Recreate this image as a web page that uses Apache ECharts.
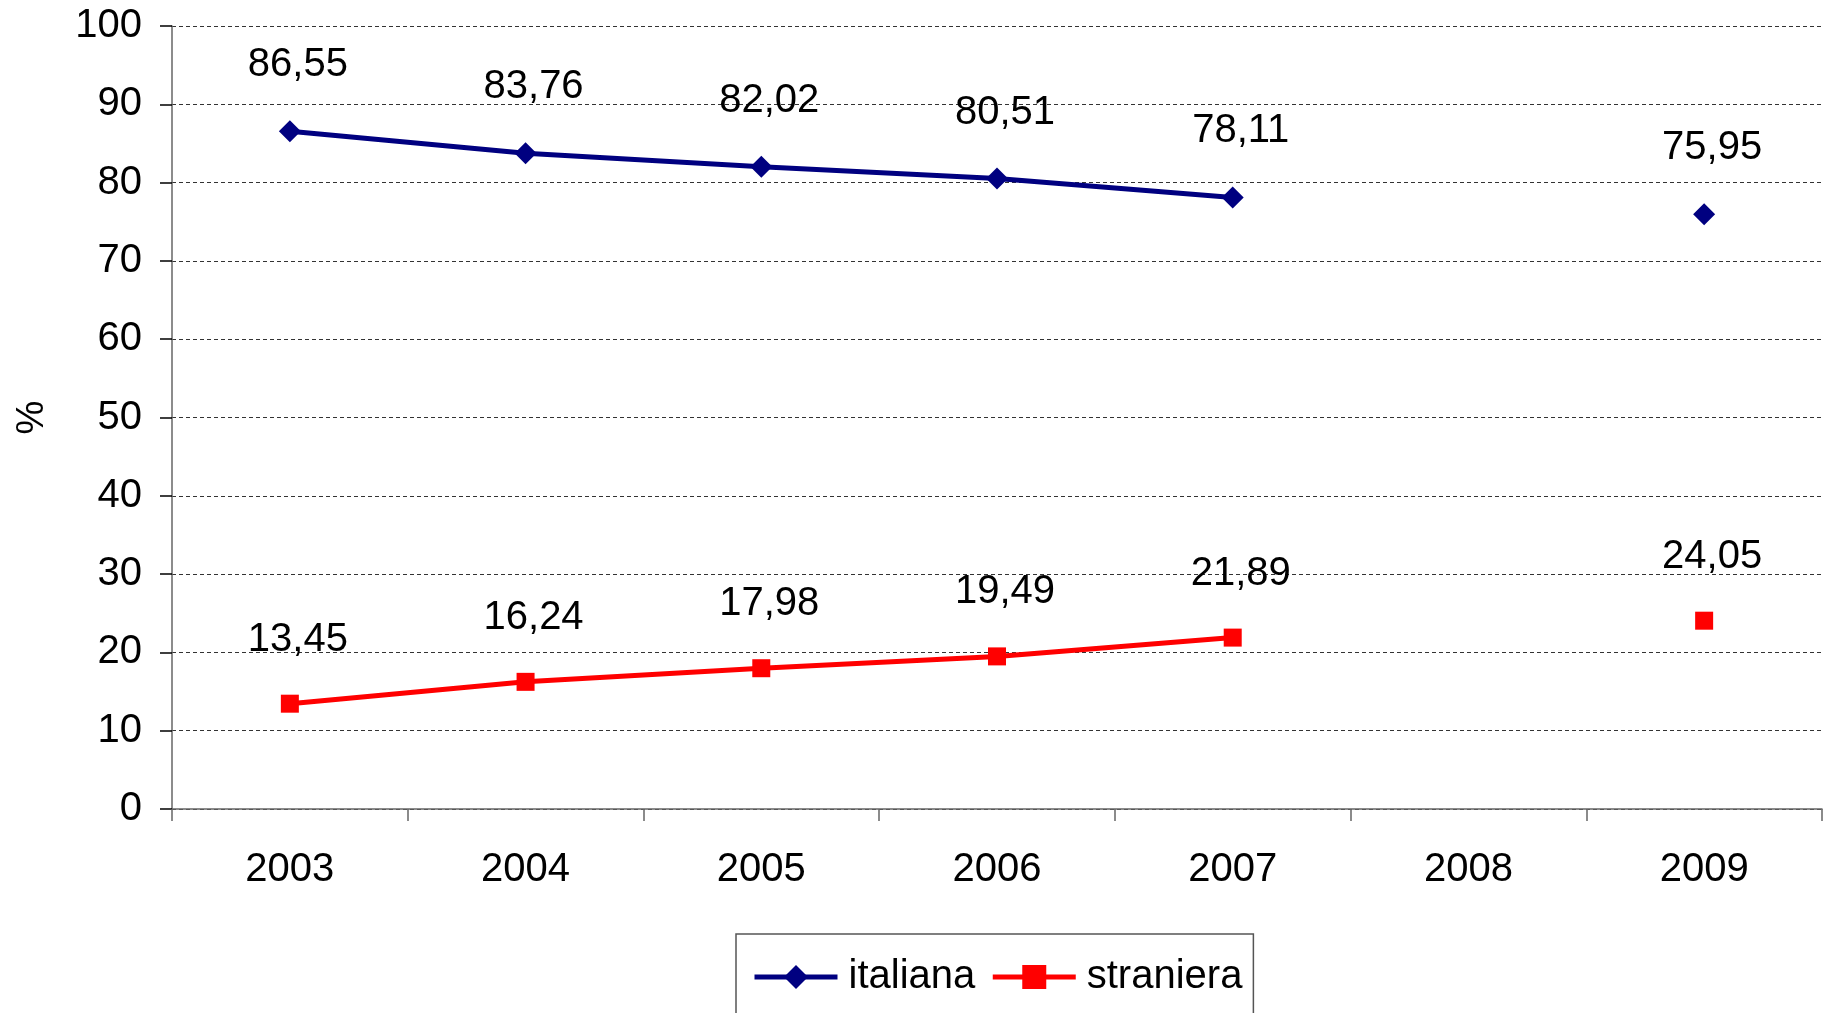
<!DOCTYPE html>
<html>
<head>
<meta charset="utf-8">
<script src="https://cdn.jsdelivr.net/npm/echarts@6/dist/echarts.min.js"></script>
<style>
  html, body { margin: 0; padding: 0; background: #fff; }
  #chart { width: 1827px; height: 1013px; }
</style>
</head>
<body>
<div id="chart"></div>
<script>
// Anni e quote percentuali per cittadinanza (2008 non disponibile)
const years = ['2003', '2004', '2005', '2006', '2007', '2008', '2009'];
const italiana = [86.55, 83.76, 82.02, 80.51, 78.11, null, 75.95];
const straniera = [13.45, 16.24, 17.98, 19.49, 21.89, null, 24.05];
const yTicks = { min: 0, max: 100, interval: 10 };

const FONT = '"Liberation Sans", Arial, sans-serif';

const fmt = p => p.value == null ? '' : p.value.toFixed(2).replace('.', ',');

const chart = echarts.init(document.getElementById('chart'));
chart.setOption({
  backgroundColor: '#ffffff',
  animation: false,
  grid: { left: 172, right: 5, top: 26, bottom: 204, containLabel: false, outerBoundsMode: 'none' },
  xAxis: {
    type: 'category',
    data: years,
    boundaryGap: true,
    axisLine: { lineStyle: { color: '#666666', width: 1.5 } },
    axisTick: { show: true, length: 12, lineStyle: { color: '#666666', width: 1.5 } },
    axisLabel: { color: '#000', fontSize: 40, fontFamily: FONT, margin: 41 },
    splitLine: { show: false }
  },
  yAxis: {
    type: 'value',
    min: yTicks.min, max: yTicks.max, interval: yTicks.interval,
    name: '%',
    nameLocation: 'middle',
    nameGap: 120,
    nameRotate: 90,
    nameTextStyle: { color: '#000', fontSize: 38, fontFamily: FONT },
    axisLine: { show: true, lineStyle: { color: '#666666', width: 1.5 } },
    axisTick: { show: true, inside: false, length: 12, lineStyle: { color: '#000', width: 1.5 } },
    axisLabel: { color: '#000', fontSize: 40, fontFamily: FONT, margin: 30 },
    splitLine: { show: true, lineStyle: { color: '#333333', type: [4, 3], width: 1 } }
  },
  legend: {
    bottom: -40,
    left: 736,
    padding: [23, 11, 56, 16],
    borderColor: '#555555',
    borderWidth: 1.5,
    itemWidth: 83,
    itemHeight: 30,
    itemGap: 15,
    lineStyle: { width: 5 },
    textStyle: { color: '#000', fontSize: 40, fontFamily: FONT, padding: [0, 0, 0, 6] },
    data: ['italiana', 'straniera']
  },
  series: [
    {
      name: 'italiana',
      type: 'line',
      data: italiana,
      connectNulls: false,
      symbol: 'diamond',
      symbolSize: 22,
      showAllSymbol: true,
      color: '#000080',
      lineStyle: { color: '#000080', width: 5 },
      itemStyle: { color: '#000080' },
      label: {
        show: true, position: 'top', distance: 35, offset: [8, 0],
        formatter: fmt, color: '#000', fontSize: 40, fontFamily: FONT
      }
    },
    {
      name: 'straniera',
      type: 'line',
      data: straniera,
      connectNulls: false,
      symbol: 'rect',
      symbolSize: 18,
      showAllSymbol: true,
      color: '#ff0000',
      lineStyle: { color: '#ff0000', width: 5 },
      itemStyle: { color: '#ff0000' },
      label: {
        show: true, position: 'top', distance: 35, offset: [8, 0],
        formatter: fmt, color: '#000', fontSize: 40, fontFamily: FONT
      }
    }
  ]
});
</script>
</body>
</html>
